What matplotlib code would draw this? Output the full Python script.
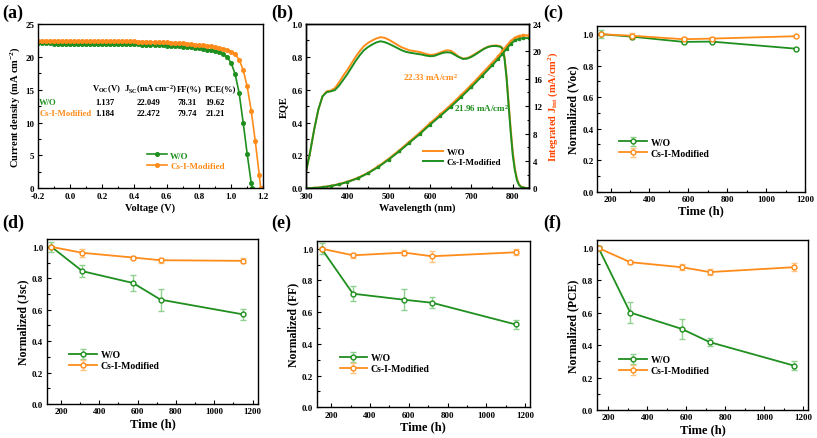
import matplotlib

matplotlib.use("Agg")
import matplotlib.pyplot as plt
import numpy as np
from matplotlib.ticker import AutoMinorLocator, MultipleLocator

plt.rcParams["font.family"] = ["Liberation Serif", "DejaVu Serif"]
plt.rcParams["font.weight"] = "bold"
plt.rcParams["axes.labelweight"] = "bold"
plt.rcParams["axes.unicode_minus"] = False
plt.rcParams["mathtext.fontset"] = "custom"
plt.rcParams["mathtext.rm"] = "Liberation Serif:bold"
plt.rcParams["mathtext.it"] = "Liberation Serif:bold"
plt.rcParams["mathtext.bf"] = "Liberation Serif:bold"

GREEN = "#1f8f1f"
ORANGE = "#ff8c1a"
LGREEN = "#8fd18f"
LORANGE = "#ffc480"

# (a) J-V curves
v_wo = [-0.200, -0.175, -0.150, -0.125, -0.100, -0.075, -0.050, -0.025, 0.000, 0.025,
        0.050, 0.075, 0.100, 0.125, 0.150, 0.175, 0.200, 0.225, 0.250, 0.275,
        0.300, 0.325, 0.350, 0.375, 0.400, 0.425, 0.450, 0.475, 0.500, 0.525,
        0.550, 0.575, 0.600, 0.625, 0.650, 0.675, 0.700, 0.725, 0.750, 0.775,
        0.800, 0.825, 0.850, 0.875, 0.900, 0.925, 0.950, 0.975, 1.000, 1.025,
        1.050, 1.075, 1.100, 1.125, 1.130]
j_wo = [22.05, 22.05, 22.04, 22.04, 22.03, 22.03, 22.02, 22.02, 22.01, 22.01,
        22.00, 22.00, 21.99, 21.99, 21.98, 21.98, 21.97, 21.97, 21.96, 21.95,
        21.95, 21.94, 21.93, 21.92, 21.91, 21.90, 21.88, 21.86, 21.84, 21.81,
        21.78, 21.75, 21.72, 21.68, 21.64, 21.60, 21.55, 21.50, 21.44, 21.37,
        21.30, 21.22, 21.12, 21.00, 20.86, 20.70, 20.45, 20.00, 19.10, 17.40,
        14.50, 10.00, 5.20, 0.80, 0.00]
v_cs = [-0.200, -0.175, -0.150, -0.125, -0.100, -0.075, -0.050, -0.025, 0.000, 0.025,
        0.050, 0.075, 0.100, 0.125, 0.150, 0.175, 0.200, 0.225, 0.250, 0.275,
        0.300, 0.325, 0.350, 0.375, 0.400, 0.425, 0.450, 0.475, 0.500, 0.525,
        0.550, 0.575, 0.600, 0.625, 0.650, 0.675, 0.700, 0.725, 0.750, 0.775,
        0.800, 0.825, 0.850, 0.875, 0.900, 0.925, 0.950, 0.975, 1.000, 1.025,
        1.050, 1.075, 1.100, 1.125, 1.150, 1.175, 1.184]
j_cs = [22.47, 22.47, 22.47, 22.46, 22.46, 22.46, 22.45, 22.45, 22.45, 22.44,
        22.44, 22.44, 22.43, 22.43, 22.42, 22.42, 22.41, 22.41, 22.40, 22.40,
        22.39, 22.38, 22.37, 22.36, 22.35, 22.34, 22.33, 22.31, 22.29, 22.27,
        22.25, 22.22, 22.19, 22.16, 22.12, 22.08, 22.04, 21.99, 21.94, 21.88,
        21.82, 21.75, 21.67, 21.58, 21.48, 21.36, 21.22, 21.05, 20.80, 20.40,
        19.60, 18.00, 15.50, 11.80, 7.20, 2.00, 0.00]

table_cols = ["V$_{OC}$(V)", "J$_{SC}$(mA cm$^{-2}$)", "FF(%)", "PCE(%)"]
table_rows = ["W/O", "Cs-I-Modified"]
table_vals = [["1.137", "22.049", "78.31", "19.62"],
              ["1.184", "22.472", "79.74", "21.21"]]

# (b) EQE and integrated current
wl_eqe = [300, 310, 320, 330, 340, 350, 360, 370, 380, 390, 400, 410, 420, 430, 440,
          450, 460, 470, 480, 490, 500, 510, 520, 530, 540, 550, 560, 570, 580, 590,
          600, 610, 620, 630, 640, 650, 660, 670, 680, 690, 700, 710, 720, 730, 740,
          750, 760, 770, 775, 780, 785, 790, 795, 800, 805, 810, 815, 820, 830, 840]
eqe_wo = [0.10, 0.22, 0.36, 0.48, 0.56, 0.59, 0.595, 0.61, 0.645, 0.685, 0.72, 0.76,
          0.80, 0.835, 0.865, 0.885, 0.90, 0.912, 0.92, 0.916, 0.905, 0.89, 0.875, 0.86,
          0.85, 0.84, 0.836, 0.832, 0.826, 0.818, 0.812, 0.814, 0.822, 0.832, 0.84,
          0.838, 0.82, 0.80, 0.79, 0.792, 0.805, 0.82, 0.835, 0.85, 0.862, 0.868, 0.87,
          0.865, 0.855, 0.80, 0.68, 0.52, 0.36, 0.22, 0.12, 0.06, 0.025, 0.01, 0.003, 0.0]
eqe_cs = [0.10, 0.22, 0.36, 0.48, 0.56, 0.585, 0.59, 0.598, 0.625, 0.66, 0.695, 0.735,
          0.775, 0.81, 0.84, 0.86, 0.875, 0.888, 0.895, 0.89, 0.88, 0.868, 0.855, 0.842,
          0.832, 0.826, 0.822, 0.818, 0.814, 0.808, 0.804, 0.806, 0.815, 0.824, 0.828,
          0.826, 0.812, 0.798, 0.787, 0.79, 0.80, 0.815, 0.832, 0.848, 0.86, 0.866,
          0.866, 0.862, 0.85, 0.79, 0.67, 0.50, 0.34, 0.20, 0.11, 0.05, 0.02, 0.008, 0.002, 0.0]
wl_int = [300, 320, 340, 360, 380, 400, 425, 450, 475, 500, 525, 550, 575, 600, 625,
          650, 675, 700, 725, 750, 765, 775, 785, 795, 805, 815, 825, 840]
jint_wo = [0.0, 0.05, 0.15, 0.35, 0.6, 0.95, 1.5, 2.25, 3.2, 4.3, 5.5, 6.8, 8.1, 9.5,
           10.8, 12.15, 13.6, 15.1, 16.7, 18.3, 19.3, 20.0, 20.8, 21.5, 22.0, 22.25,
           22.33, 22.33]
jint_cs = [0.0, 0.05, 0.15, 0.34, 0.58, 0.92, 1.46, 2.2, 3.12, 4.2, 5.38, 6.65, 7.92,
           9.3, 10.58, 11.9, 13.32, 14.8, 16.36, 17.95, 18.93, 19.62, 20.4, 21.1, 21.6,
           21.85, 21.94, 21.96]

# (c)-(f) stability
time_h = [150, 312, 576, 720, 1152]
voc_wo = [1.0, 0.984, 0.951, 0.953, 0.908]
voc_wo_err = [0.025, 0.005, 0.006, 0.005, 0.004]
voc_cs = [1.0, 0.99, 0.968, 0.972, 0.987]
voc_cs_err = [0.008, 0.02, 0.015, 0.008, 0.006]
jsc_wo = [1.0, 0.845, 0.770, 0.664, 0.570]
jsc_wo_err = [0.03, 0.037, 0.052, 0.069, 0.033]
jsc_cs = [1.0, 0.962, 0.932, 0.915, 0.911]
jsc_cs_err = [0.008, 0.025, 0.01, 0.015, 0.015]
ff_wo = [1.0, 0.716, 0.678, 0.659, 0.522]
ff_wo_err = [0.035, 0.047, 0.065, 0.035, 0.03]
ff_cs = [1.0, 0.958, 0.975, 0.952, 0.977]
ff_cs_err = [0.01, 0.015, 0.015, 0.035, 0.02]
pce_wo = [1.0, 0.602, 0.501, 0.419, 0.274]
pce_wo_err = [0.01, 0.063, 0.062, 0.025, 0.03]
pce_cs = [1.0, 0.913, 0.882, 0.852, 0.882]
pce_cs_err = [0.008, 0.01, 0.02, 0.02, 0.025]

fig = plt.figure(figsize=(8.17, 4.39), dpi=100)


def style_axes(ax, fs=6.5):
    ax.tick_params(which="both", direction="in", labelsize=fs, width=0.8, pad=2.5)
    ax.tick_params(which="major", length=3)
    ax.tick_params(which="minor", length=1.8)
    for s in ax.spines.values():
        s.set_linewidth(1.0)


# ---- (a)
ax = fig.add_axes([0.0461, 0.5688, 0.2762, 0.3742])
ax.plot(v_wo, j_wo, color=GREEN, lw=1.2, marker="o", ms=3, mfc=GREEN, mec=GREEN,
        mew=0.6, label="W/O")
ax.plot(v_cs, j_cs, color=ORANGE, lw=1.2, marker="o", ms=3, mfc=ORANGE, mec=ORANGE,
        mew=0.6, label="Cs-I-Modified")
ax.set_xlim(-0.2, 1.2)
ax.set_ylim(0, 25)
ax.xaxis.set_major_locator(MultipleLocator(0.2))
ax.xaxis.set_minor_locator(AutoMinorLocator(2))
ax.yaxis.set_major_locator(MultipleLocator(5))
ax.yaxis.set_minor_locator(AutoMinorLocator(2))
ax.set_xlabel("Voltage (V)", fontsize=7.5, labelpad=2)
ax.set_ylabel("Current density (mA cm$^{-2}$)", fontsize=7.5, labelpad=2)
style_axes(ax)
col_x = [0.135, 0.335, 0.665, 0.835]
for cx, txt in zip(col_x, table_cols):
    ax.text(cx, 15.2, txt, fontsize=6.2, ha="left", va="center")
row_y = [13.2, 11.5]
for ry, name, c, vals in zip(row_y, table_rows, [GREEN, ORANGE], table_vals):
    ax.text(-0.19, ry, name, fontsize=6.2, color=c, ha="left", va="center")
    for cx, v in zip([0.16, 0.415, 0.665, 0.84], vals):
        ax.text(cx, ry, v, fontsize=6.2, ha="left", va="center")
leg = ax.legend(loc="lower left", bbox_to_anchor=(0.46, 0.08), fontsize=6.5, frameon=False,
                handlelength=2.2, borderaxespad=0.2, labelspacing=0.2, handletextpad=0.4)
for t, c in zip(leg.get_texts(), [GREEN, ORANGE]):
    t.set_color(c)
fig.text(0.003, 0.99, "(a)", fontsize=13, fontweight="bold", va="top")

# ---- (b)
ax = fig.add_axes([0.3745, 0.5688, 0.2734, 0.3742])
ax.plot(wl_eqe, eqe_wo, color=ORANGE, lw=1.4, label="W/O")
ax.plot(wl_eqe, eqe_cs, color=GREEN, lw=1.4, label="Cs-I-Modified")
ax.set_xlim(300, 840)
ax.set_ylim(0, 1.0)
ax.xaxis.set_major_locator(MultipleLocator(100))
ax.xaxis.set_minor_locator(AutoMinorLocator(2))
ax.yaxis.set_major_locator(MultipleLocator(0.2))
ax.yaxis.set_minor_locator(AutoMinorLocator(2))
ax.set_xlabel("Wavelength (nm)", fontsize=7.5, labelpad=2)
ax.set_ylabel("EQE", fontsize=7.5, labelpad=2)
style_axes(ax)
ax.legend(loc="lower left", bbox_to_anchor=(0.5, 0.1), fontsize=6.5, frameon=False,
          handlelength=2.2, borderaxespad=0.2, labelspacing=0.2, handletextpad=0.4)
ax.text(535, 0.68, "22.33 mA/cm$^2$", color=ORANGE, fontsize=6.5, va="center")
ax.text(658, 0.49, "21.96 mA/cm$^2$", color=GREEN, fontsize=6.5, va="center")
ax2 = ax.twinx()
ax2.plot(wl_int, jint_wo, color=ORANGE, lw=1.6, marker="s", ms=1.6)
ax2.plot(wl_int, jint_cs, color=GREEN, lw=1.4, marker="s", ms=1.4)
ax2.set_ylim(0, 24)
ax2.yaxis.set_major_locator(MultipleLocator(4))
ax2.yaxis.set_minor_locator(AutoMinorLocator(2))
ax2.set_ylabel("Integrated J$_{int}$ (mA/cm$^2$)", fontsize=7.5, color="#ff4500", labelpad=3)
style_axes(ax2)
fig.text(0.332, 0.99, "(b)", fontsize=13, fontweight="bold", va="top")


def stability(rect, xlim, ylabel, wo, wo_err, cs, cs_err, tag, tag_pos):
    ax = fig.add_axes(rect)
    ax.errorbar(time_h, wo, yerr=wo_err, color=GREEN, ecolor=LGREEN, lw=1.3,
                marker="o", ms=3.5, mfc="white", mec=GREEN, mew=1.0, capsize=2.5,
                elinewidth=1.0, capthick=1.0, label="W/O")
    ax.errorbar(time_h, cs, yerr=cs_err, color=ORANGE, ecolor=LORANGE, lw=1.3,
                marker="o", ms=3.5, mfc="white", mec=ORANGE, mew=1.0, capsize=2.5,
                elinewidth=1.0, capthick=1.0, label="Cs-I-Modified")
    ax.set_xlim(*xlim)
    ax.set_ylim(0, 1.05)
    ax.xaxis.set_major_locator(MultipleLocator(200))
    ax.xaxis.set_minor_locator(AutoMinorLocator(2))
    ax.yaxis.set_major_locator(MultipleLocator(0.2))
    ax.yaxis.set_minor_locator(AutoMinorLocator(2))
    ax.set_xlabel("Time (h)", fontsize=9, labelpad=1)
    ax.set_ylabel(ylabel, fontsize=8.5, labelpad=2)
    style_axes(ax)
    h, l = ax.get_legend_handles_labels()
    ax.legend(h, l, loc="lower left", bbox_to_anchor=(0.08, 0.17), fontsize=7,
              frameon=False, handlelength=2.8, borderaxespad=0.2, labelspacing=0.2,
              handletextpad=0.4)
    fig.text(tag_pos[0], tag_pos[1], tag, fontsize=13, fontweight="bold", va="top")
    return ax


stability([0.7307, 0.561, 0.2546, 0.3768], (130, 1200), "Normalized (Voc)",
          voc_wo, voc_wo_err, voc_cs, voc_cs_err, "(c)", (0.665, 0.99))
stability([0.0571, 0.0774, 0.259, 0.3759], (125, 1230), "Normalized (Jsc)",
          jsc_wo, jsc_wo_err, jsc_cs, jsc_cs_err, "(d)", (0.003, 0.51))
stability([0.3876, 0.0699, 0.2611, 0.3795], (125, 1225), "Normalized (FF)",
          ff_wo, ff_wo_err, ff_cs, ff_cs_err, "(e)", (0.332, 0.51))
stability([0.7303, 0.0638, 0.259, 0.3872], (140, 1225), "Normalized (PCE)",
          pce_wo, pce_wo_err, pce_cs, pce_cs_err, "(f)", (0.665, 0.51))

fig.savefig("out.png", dpi=100)
